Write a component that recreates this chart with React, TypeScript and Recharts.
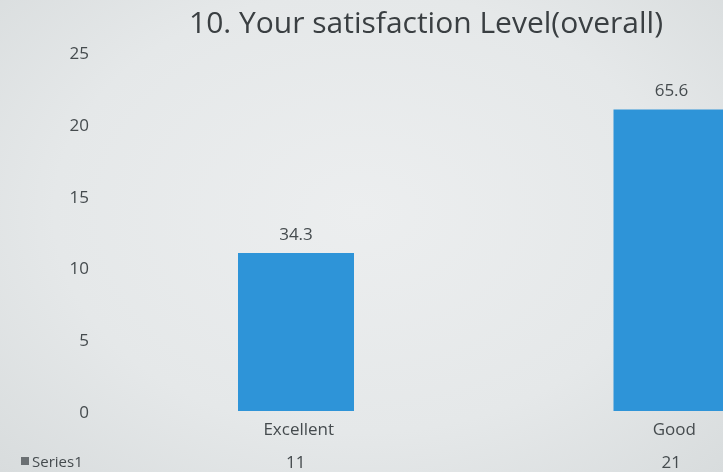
import React from 'react';
import { BarChart, Bar, XAxis, YAxis, LabelList } from 'recharts';

const categories = ['Excellent', 'Good'];
const counts = [11, 21];
const percents = [34.3, 65.6];
const yTicks = [0, 5, 10, 15, 20, 25];

const data = categories.map((name, i) => ({ name, count: counts[i], pct: percents[i] }));

const FONT = '"Open Sans", "Noto Sans", sans-serif';
const TEXT = '#454b4e';

const CategoryTick = (props: any) => {
  const { x, y, payload, index } = props;
  return (
    <g>
      <text x={x + 3} y={y + 12} textAnchor="middle" fontSize={17} fill={TEXT} fontFamily={FONT}>
        {payload.value}
      </text>
      <text x={x} y={y + 45} textAnchor="middle" fontSize={17} fill={TEXT} fontFamily={FONT}>
        {counts[index]}
      </text>
    </g>
  );
};

const App: React.FC = () => {
  return (
    <div
      style={{
        position: 'fixed',
        left: 0,
        top: 0,
        width: 723,
        height: 472,
        overflow: 'hidden',
        background: 'radial-gradient(ellipse at 50% 45%, #eceeef 0%, #e5e8e9 60%, #d8dcdd 100%)',
      }}
    >
      <div
        style={{
          position: 'absolute',
          top: 1,
          left: 0,
          width: 852,
          textAlign: 'center',
          fontFamily: FONT,
          fontSize: 30,
          color: '#3a3f42',
        }}
      >
        10. Your satisfaction Level(overall)
      </div>
      <div
        style={{
          position: 'absolute',
          left: 21,
          top: 451,
          fontFamily: FONT,
          fontSize: 15,
          color: TEXT,
          display: 'flex',
          alignItems: 'center',
        }}
      >
        <span style={{ display: 'inline-block', width: 8, height: 8, background: '#6b7073', marginRight: 3 }} />
        Series1
      </div>
      <BarChart
        width={862}
        height={472}
        data={data}
        margin={{ top: 52, right: 3, bottom: 0, left: 0 }}
      >
        <XAxis
          dataKey="name"
          axisLine={false}
          tickLine={false}
          height={61}
          tickSize={0}
          tickMargin={12}
          tick={<CategoryTick />}
          interval={0}
        />
        <YAxis
          width={108}
          domain={[0, 25]}
          ticks={yTicks}
          axisLine={false}
          tickLine={false}
          tickSize={0}
          tickMargin={19}
          tick={{ fontSize: 17, fill: TEXT, fontFamily: FONT, dy: 1 }}
        />
        <Bar dataKey="count" name="Series1" fill="#2e94d8" barSize={116} isAnimationActive={false}>
          <LabelList
            dataKey="pct"
            position="top"
            offset={13}
            style={{ fontSize: 17, fill: TEXT, fontFamily: FONT }}
          />
        </Bar>
      </BarChart>
    </div>
  );
};

export default App;
